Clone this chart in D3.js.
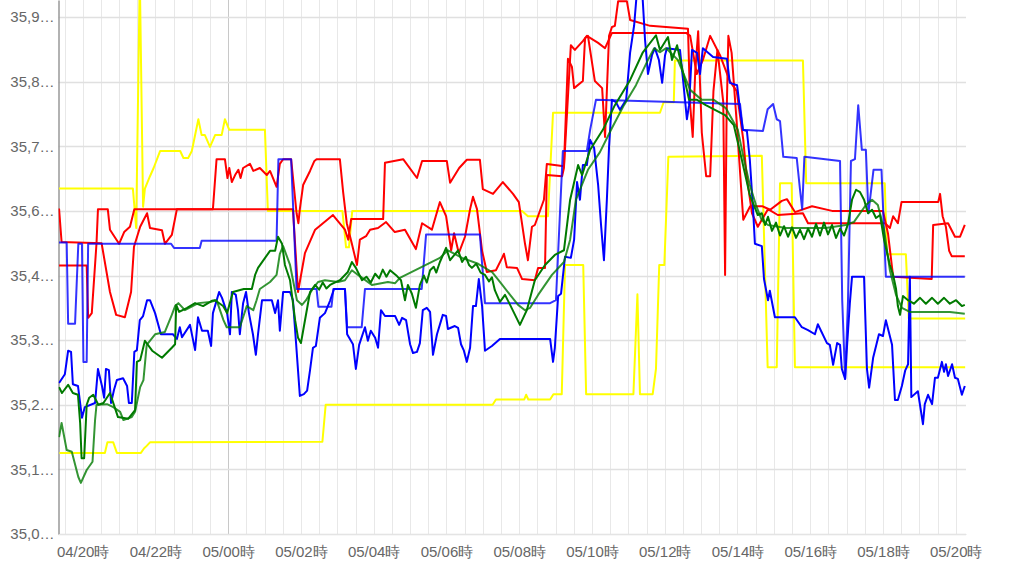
<!DOCTYPE html>
<html><head><meta charset="utf-8">
<script src="https://cdn.jsdelivr.net/npm/d3@7"></script>
<style>
html,body{margin:0;padding:0;background:#fff;}
svg{display:block;font-family:"Liberation Sans",Arial,"Noto Sans CJK JP",sans-serif;}
</style></head><body>
<svg id="chart" width="1024" height="576"></svg>
<script>
const yTickValues = [35.05,35.16,35.27,35.38,35.49,35.60,35.71,35.82,35.93];
const yTickLabels = ["35,0…","35,1…","35,2…","35,3…","35,4…","35,6…","35,7…","35,8…","35,9…"];
const xTickHours = [20,22,24,26,28,30,32,34,36,38,40,42,44];
const xTickLabels = ["04/20時","04/22時","05/00時","05/02時","05/04時","05/06時","05/08時","05/10時","05/12時","05/14時","05/16時","05/18時","05/20時"];

const yellowHigh = [[19.35,35.638],[21.38,35.638],[21.47,35.571],[21.57,36.00],[21.66,35.607],[21.71,35.638],[21.85,35.659],[21.95,35.673],[22.13,35.702],[22.68,35.702],[22.77,35.690],[22.90,35.690],[23.00,35.702],[23.18,35.756],[23.27,35.729],[23.36,35.729],[23.50,35.709],[23.64,35.729],[23.82,35.729],[23.91,35.756],[24.03,35.738],[25.01,35.738],[25.09,35.600],[27.14,35.600],[27.24,35.538],[27.32,35.538],[27.41,35.600],[32.08,35.600],[32.24,35.591],[32.79,35.591],[32.93,35.767],[35.87,35.767],[35.97,35.785],[36.25,35.785],[36.28,35.856],[39.80,35.856],[39.89,35.647],[42.05,35.647],[42.11,35.526],[42.63,35.526],[42.71,35.417],[44.26,35.417]];
const yellowLow = [[19.36,35.188],[20.61,35.188],[20.68,35.206],[20.84,35.206],[20.94,35.188],[21.60,35.188],[21.69,35.196],[21.76,35.200],[21.85,35.206],[26.59,35.207],[26.68,35.270],[31.27,35.270],[31.36,35.279],[32.14,35.279],[32.19,35.287],[32.25,35.279],[32.85,35.279],[32.94,35.288],[33.17,35.288],[33.26,35.508],[33.76,35.508],[33.84,35.288],[35.14,35.288],[35.25,35.458],[35.32,35.288],[35.67,35.288],[35.76,35.331],[35.85,35.508],[35.99,35.508],[36.10,35.692],[38.67,35.694],[38.83,35.334],[39.08,35.334],[39.17,35.647],[39.49,35.647],[39.58,35.334],[44.26,35.334]];

const redA = [[19.35,35.507],[20.11,35.507],[20.15,35.418],[20.25,35.426],[20.38,35.545],[20.42,35.603],[20.69,35.603],[20.75,35.568],[21.00,35.544],[21.14,35.564],[21.30,35.573],[21.42,35.603],[25.78,35.603],[25.92,35.462],[26.11,35.528],[26.39,35.568],[26.88,35.593],[27.21,35.568],[27.30,35.551],[27.38,35.586],[28.26,35.586],[28.31,35.682],[28.81,35.688],[29.19,35.656],[29.33,35.685],[30.01,35.685],[30.10,35.648],[30.35,35.673],[30.56,35.687],[30.92,35.687],[31.00,35.637],[31.28,35.629],[31.55,35.649],[31.83,35.629],[31.99,35.615],[32.16,35.544],[32.24,35.516],[32.35,35.573],[32.43,35.576],[32.68,35.619],[32.76,35.680],[33.23,35.676],[33.34,35.859],[33.45,35.845],[33.51,35.809],[33.75,35.821],[33.81,35.894],[33.89,35.898],[34.08,35.821],[34.28,35.809],[34.36,35.726],[34.47,35.898],[34.55,35.913],[34.63,35.915],[34.72,35.957],[34.96,35.957],[35.05,35.925],[35.60,35.915],[36.64,35.910],[36.70,35.780],[36.77,35.726],[36.84,35.838],[36.92,35.906],[37.02,35.733],[37.14,35.659],[37.25,35.659],[37.34,35.804],[37.45,35.874],[37.61,35.785],[37.66,35.491],[37.70,35.755],[37.75,35.898],[37.84,35.869],[37.98,35.750],[38.16,35.585],[38.35,35.608],[38.68,35.608],[38.90,35.602],[39.22,35.617],[39.36,35.620],[39.58,35.598],[40.05,35.608],[40.60,35.600],[42.00,35.600],[42.14,35.561],[42.28,35.488],[43.34,35.484],[43.38,35.576],[43.79,35.579],[43.98,35.556],[44.12,35.556],[44.25,35.576]];
const redB = [[19.35,35.604],[19.42,35.547],[20.52,35.545],[20.75,35.462],[20.92,35.423],[21.16,35.419],[21.33,35.462],[21.41,35.539],[21.58,35.573],[21.77,35.596],[21.85,35.571],[22.18,35.567],[22.26,35.544],[22.45,35.559],[22.59,35.603],[23.58,35.603],[23.68,35.688],[23.91,35.688],[23.98,35.656],[24.03,35.673],[24.10,35.649],[24.19,35.661],[24.28,35.670],[24.34,35.656],[24.41,35.673],[24.60,35.680],[24.69,35.668],[24.87,35.673],[25.06,35.661],[25.15,35.668],[25.33,35.641],[25.42,35.680],[25.51,35.688],[25.73,35.688],[25.88,35.596],[25.93,35.579],[25.97,35.603],[26.06,35.644],[26.25,35.668],[26.37,35.685],[26.43,35.688],[27.07,35.688],[27.16,35.632],[27.26,35.579],[27.40,35.544],[27.54,35.508],[27.62,35.551],[27.79,35.557],[27.90,35.568],[28.12,35.571],[28.34,35.581],[28.58,35.564],[28.86,35.568],[29.16,35.535],[29.33,35.579],[29.60,35.568],[29.82,35.615],[29.99,35.591],[30.13,35.533],[30.21,35.562],[30.34,35.528],[30.51,35.556],[30.65,35.603],[30.73,35.624],[30.84,35.603],[30.98,35.532],[31.11,35.496],[31.36,35.499],[31.53,35.520],[31.58,35.527],[31.66,35.504],[31.94,35.503],[32.08,35.484],[32.43,35.482],[32.52,35.503],[32.71,35.503],[32.76,35.661],[33.18,35.659],[33.23,35.673],[33.42,35.882],[33.53,35.874],[33.75,35.889],[33.86,35.898],[34.17,35.886],[34.36,35.877],[34.55,35.903],[36.59,35.903],[36.70,35.898],[36.88,35.833],[37.05,35.857],[37.25,35.898],[37.52,35.865],[37.79,35.821],[37.98,35.804],[38.16,35.721],[38.25,35.661],[38.40,35.596],[38.56,35.573],[38.84,35.603],[39.11,35.593],[39.80,35.596],[39.94,35.579],[42.06,35.579],[42.19,35.571],[42.28,35.591],[42.41,35.579],[42.51,35.615],[43.52,35.615],[43.57,35.629],[43.64,35.591],[43.73,35.573],[43.82,35.532],[43.89,35.523],[44.25,35.523]];

const blueA = [[19.35,35.307],[19.51,35.322],[19.60,35.362],[19.68,35.360],[19.73,35.305],[19.87,35.302],[19.98,35.248],[20.06,35.266],[20.34,35.273],[20.42,35.331],[20.53,35.302],[20.59,35.282],[20.64,35.331],[20.72,35.329],[20.78,35.273],[20.86,35.295],[20.94,35.312],[21.11,35.315],[21.22,35.302],[21.27,35.273],[21.35,35.273],[21.42,35.360],[21.49,35.363],[21.57,35.414],[21.66,35.421],[21.77,35.448],[21.85,35.448],[21.99,35.426],[22.15,35.390],[22.48,35.390],[22.59,35.382],[22.67,35.402],[22.73,35.385],[22.95,35.406],[23.09,35.363],[23.17,35.419],[23.28,35.396],[23.44,35.396],[23.53,35.370],[23.58,35.426],[23.75,35.462],[23.83,35.452],[23.97,35.426],[24.05,35.390],[24.10,35.462],[24.21,35.457],[24.27,35.431],[24.32,35.390],[24.41,35.443],[24.49,35.462],[24.57,35.426],[24.68,35.390],[24.76,35.355],[24.82,35.390],[24.93,35.448],[25.20,35.448],[25.29,35.426],[25.37,35.448],[25.42,35.396],[25.51,35.462],[25.70,35.462],[25.78,35.448],[25.86,35.380],[25.97,35.285],[26.08,35.288],[26.17,35.294],[26.25,35.329],[26.33,35.367],[26.41,35.370],[26.52,35.418],[26.66,35.426],[26.80,35.447],[26.91,35.467],[27.21,35.467],[27.27,35.390],[27.43,35.373],[27.51,35.331],[27.60,35.372],[27.76,35.402],[27.84,35.379],[27.92,35.396],[28.04,35.384],[28.12,35.367],[28.20,35.431],[28.31,35.421],[28.59,35.421],[28.70,35.406],[28.78,35.418],[28.89,35.414],[29.00,35.373],[29.08,35.358],[29.19,35.360],[29.27,35.375],[29.35,35.431],[29.46,35.435],[29.55,35.428],[29.63,35.355],[29.74,35.390],[29.90,35.423],[29.99,35.421],[30.04,35.399],[30.23,35.404],[30.32,35.401],[30.40,35.373],[30.48,35.362],[30.56,35.343],[30.65,35.367],[30.73,35.438],[30.81,35.438],[30.89,35.484],[30.98,35.438],[31.06,35.362],[31.25,35.370],[31.47,35.382],[32.85,35.382],[32.93,35.343],[32.98,35.367],[33.07,35.455],[33.15,35.459],[33.26,35.522],[33.42,35.520],[33.51,35.551],[33.59,35.649],[33.67,35.619],[33.75,35.678],[33.86,35.678],[33.95,35.721],[34.06,35.707],[34.17,35.644],[34.25,35.576],[34.33,35.516],[34.41,35.619],[34.47,35.709],[34.55,35.789],[34.66,35.785],[34.77,35.772],[34.94,35.789],[35.05,35.870],[35.16,35.916],[35.24,35.976],[35.38,35.976],[35.46,35.891],[35.54,35.833],[35.65,35.865],[35.73,35.877],[35.84,35.857],[35.93,35.818],[36.01,35.865],[36.06,35.877],[36.42,35.874],[36.50,35.826],[36.61,35.756],[36.67,35.780],[36.75,35.874],[36.89,35.869],[36.97,35.833],[37.05,35.877],[37.33,35.862],[37.71,35.859],[37.79,35.818],[37.99,35.814],[38.07,35.773],[38.15,35.738],[38.26,35.736],[38.34,35.687],[38.43,35.602],[38.48,35.544],[38.67,35.540],[38.73,35.484],[38.84,35.448],[38.89,35.464],[39.03,35.419],[39.58,35.419],[39.77,35.402],[39.94,35.397],[40.13,35.390],[40.21,35.407],[40.46,35.375],[40.54,35.372],[40.63,35.338],[40.74,35.375],[40.82,35.372],[40.87,35.331],[40.96,35.314],[41.01,35.367],[41.09,35.443],[41.15,35.488],[41.48,35.488],[41.56,35.331],[41.62,35.299],[41.73,35.350],[41.89,35.390],[42.00,35.387],[42.08,35.414],[42.25,35.372],[42.33,35.278],[42.41,35.278],[42.52,35.302],[42.61,35.328],[42.69,35.339],[42.74,35.488],[42.78,35.283],[42.96,35.293],[43.10,35.237],[43.15,35.271],[43.24,35.287],[43.35,35.271],[43.43,35.316],[43.51,35.316],[43.62,35.343],[43.68,35.326],[43.73,35.339],[43.79,35.319],[43.90,35.339],[43.98,35.316],[44.06,35.314],[44.17,35.287],[44.25,35.302]];
const blueB = [[19.35,35.546],[19.56,35.546],[19.60,35.408],[19.79,35.408],[19.88,35.544],[19.98,35.544],[20.02,35.343],[20.11,35.343],[20.15,35.544],[22.43,35.544],[22.51,35.537],[23.22,35.537],[23.27,35.549],[25.33,35.549],[25.38,35.688],[25.73,35.688],[25.88,35.467],[26.43,35.467],[26.48,35.437],[26.84,35.437],[26.89,35.467],[27.21,35.467],[27.27,35.402],[27.67,35.402],[27.76,35.467],[29.32,35.467],[29.44,35.560],[30.92,35.560],[31.06,35.443],[32.85,35.443],[33.01,35.448],[33.20,35.702],[33.86,35.702],[33.95,35.738],[34.11,35.789],[38.07,35.782],[38.15,35.738],[38.70,35.736],[38.83,35.773],[38.98,35.782],[39.08,35.756],[39.17,35.753],[39.26,35.692],[39.63,35.690],[39.72,35.636],[39.78,35.603],[39.84,35.692],[40.82,35.685],[40.88,35.448],[40.96,35.314],[41.04,35.448],[41.12,35.685],[41.23,35.688],[41.32,35.780],[41.42,35.704],[41.53,35.704],[41.60,35.596],[41.74,35.670],[41.96,35.670],[42.08,35.488],[44.25,35.488]];

const greenA = [[19.35,35.300],[19.43,35.290],[19.60,35.304],[19.73,35.290],[19.87,35.287],[19.93,35.239],[19.97,35.179],[20.04,35.179],[20.11,35.270],[20.18,35.282],[20.29,35.287],[20.43,35.270],[20.57,35.273],[20.75,35.290],[20.97,35.249],[21.25,35.246],[21.44,35.261],[21.49,35.343],[21.58,35.346],[21.71,35.379],[21.91,35.362],[22.18,35.350],[22.45,35.367],[22.54,35.373],[22.57,35.440],[22.65,35.428],[22.87,35.435],[23.09,35.443],[23.31,35.438],[23.55,35.447],[23.64,35.448],[23.86,35.438],[23.97,35.426],[24.13,35.462],[24.43,35.467],[24.65,35.467],[24.74,35.491],[24.82,35.503],[25.15,35.532],[25.29,35.532],[25.37,35.556],[25.48,35.544],[25.56,35.508],[25.70,35.482],[25.84,35.414],[25.92,35.384],[26.00,35.375],[26.06,35.396],[26.25,35.462],[26.39,35.474],[26.50,35.466],[26.60,35.478],[26.70,35.468],[26.80,35.474],[27.07,35.482],[27.29,35.496],[27.40,35.513],[27.51,35.503],[27.68,35.482],[27.80,35.488],[27.92,35.478],[28.04,35.493],[28.15,35.485],[28.25,35.500],[28.35,35.488],[28.45,35.499],[28.64,35.489],[28.75,35.482],[28.86,35.448],[28.94,35.474],[29.05,35.459],[29.16,35.435],[29.27,35.474],[29.38,35.490],[29.46,35.478],[29.55,35.499],[29.65,35.505],[29.72,35.495],[29.82,35.513],[29.99,35.537],[30.10,35.516],[30.32,35.533],[30.43,35.513],[30.53,35.522],[30.62,35.508],[30.70,35.503],[30.82,35.510],[30.94,35.495],[31.06,35.491],[31.17,35.480],[31.25,35.487],[31.33,35.465],[31.47,35.445],[31.61,35.457],[31.75,35.440],[32.02,35.406],[32.21,35.431],[32.43,35.482],[32.71,35.508],[32.98,35.525],[33.23,35.533],[33.40,35.619],[33.62,35.678],[33.73,35.661],[33.95,35.704],[34.30,35.738],[34.63,35.780],[35.05,35.823],[35.40,35.870],[35.76,35.899],[35.87,35.874],[36.09,35.896],[36.20,35.857],[36.34,35.882],[36.67,35.789],[36.89,35.789],[37.13,35.780],[37.38,35.772],[37.66,35.763],[37.90,35.746],[38.12,35.687],[38.34,35.627],[38.56,35.593],[38.67,35.596],[38.76,35.576],[38.84,35.590],[38.95,35.566],[39.06,35.580],[39.17,35.558],[39.28,35.574],[39.39,35.556],[39.50,35.572],[39.61,35.554],[39.72,35.568],[39.83,35.552],[39.94,35.570],[40.05,35.556],[40.16,35.578],[40.27,35.558],[40.38,35.580],[40.49,35.560],[40.60,35.576],[40.71,35.554],[40.82,35.570],[40.93,35.558],[41.04,35.578],[41.15,35.619],[41.26,35.636],[41.37,35.632],[41.48,35.619],[41.59,35.596],[41.70,35.602],[41.81,35.588],[41.92,35.593],[42.03,35.551],[42.19,35.508],[42.28,35.491],[42.36,35.467],[42.41,35.438],[42.47,35.423],[42.55,35.455],[42.69,35.448],[42.85,35.442],[43.02,35.452],[43.18,35.442],[43.35,35.452],[43.51,35.442],[43.68,35.452],[43.84,35.442],[44.01,35.448],[44.17,35.438],[44.25,35.440]];
const greenB = [[19.35,35.215],[19.42,35.239],[19.56,35.193],[19.70,35.190],[19.88,35.147],[19.95,35.137],[20.11,35.159],[20.27,35.173],[20.34,35.244],[20.38,35.270],[20.67,35.271],[20.84,35.266],[21.03,35.258],[21.12,35.244],[21.35,35.249],[21.44,35.258],[21.58,35.300],[21.67,35.312],[21.76,35.372],[21.99,35.390],[22.26,35.394],[22.45,35.423],[22.54,35.438],[22.63,35.443],[22.81,35.431],[23.18,35.443],[23.50,35.445],[23.68,35.448],[23.87,35.414],[23.96,35.402],[24.32,35.402],[24.51,35.438],[24.69,35.431],[24.78,35.448],[24.87,35.467],[25.15,35.479],[25.33,35.491],[25.42,35.527],[25.51,35.540],[25.70,35.508],[25.89,35.448],[26.03,35.440],[26.14,35.448],[26.30,35.465],[26.47,35.479],[26.66,35.482],[27.02,35.479],[27.21,35.482],[27.40,35.499],[27.57,35.491],[27.95,35.474],[28.39,35.479],[28.59,35.477],[28.72,35.486],[29.27,35.503],[29.82,35.520],[30.04,35.533],[30.43,35.520],[30.87,35.510],[31.25,35.496],[31.47,35.479],[31.75,35.457],[31.97,35.440],[32.16,35.431],[32.30,35.435],[32.52,35.457],[32.90,35.491],[33.23,35.513],[33.40,35.551],[33.56,35.619],[33.89,35.670],[34.22,35.700],[34.55,35.741],[34.88,35.780],[35.21,35.814],[35.54,35.857],[35.71,35.877],[35.87,35.870],[36.04,35.877],[36.36,35.857],[36.70,35.806],[37.02,35.789],[37.35,35.789],[37.68,35.775],[38.01,35.738],[38.18,35.687],[38.34,35.644],[38.51,35.610],[38.67,35.584],[38.84,35.576],[39.33,35.571],[39.88,35.571],[40.43,35.571],[40.98,35.576],[41.20,35.581],[41.53,35.610],[41.70,35.619],[41.86,35.610],[42.03,35.568],[42.19,35.499],[42.36,35.457],[42.52,35.435],[42.74,35.428],[43.29,35.428],[43.84,35.428],[44.25,35.425]];

const seriesList = [
  {data: yellowLow, color: "#ffff00", opacity: 1},
  {data: yellowHigh, color: "#ffff00", opacity: 1},
  {data: redB, color: "#ff0000", opacity: 1},
  {data: redA, color: "#ff0000", opacity: 1},
  {data: blueB, color: "#0000ff", opacity: 0.8},
  {data: blueA, color: "#0000ff", opacity: 1},
  {data: greenB, color: "#007a00", opacity: 0.8},
  {data: greenA, color: "#007a00", opacity: 1}
];

const svg = d3.select("#chart");
const plotLeft = 58.5, plotRight = 966, plotTop = 0, plotBottom = 534;
const x = d3.scaleLinear().domain([19.335, 44.283]).range([plotLeft, plotRight]);
const y = d3.scaleLinear().domain([35.05, 35.959]).range([plotBottom, plotTop]);

const halfHours = d3.range(19.5, 44.26, 0.5);
svg.append("g").selectAll("line").data(halfHours).join("line")
  .attr("x1", d => Math.round(x(d)) + 0.5).attr("x2", d => Math.round(x(d)) + 0.5)
  .attr("y1", plotTop).attr("y2", plotBottom)
  .attr("stroke", d => d === 24 ? "#c8c8c8" : "#e8e8e8").attr("stroke-width", 1);
svg.append("g").selectAll("line").data(yTickValues).join("line")
  .attr("x1", plotLeft).attr("x2", plotRight)
  .attr("y1", d => Math.round(y(d)) + 0.5).attr("y2", d => Math.round(y(d)) + 0.5)
  .attr("stroke", "#e0e0e0").attr("stroke-width", 1.5);

const yAxis = d3.axisLeft(y).tickValues(yTickValues).tickFormat((d, i) => yTickLabels[i]).tickSize(0).tickPadding(4);
const gy = svg.append("g").attr("transform", `translate(${plotLeft},0)`).call(yAxis);
gy.select(".domain").attr("stroke", "#999").attr("stroke-width", 1.5);
gy.selectAll("text").attr("fill", "#666").attr("font-size", 15);

const xAxis = d3.axisBottom(x).tickValues(xTickHours).tickFormat((d, i) => xTickLabels[i]).tickSize(0).tickPadding(12);
const gx = svg.append("g").attr("transform", `translate(0,${plotBottom})`).call(xAxis);
gx.select(".domain").attr("stroke", "#e4e4e4").attr("stroke-width", 1);
gx.selectAll("text").attr("fill", "#666").attr("font-size", 15);

svg.append("defs").append("clipPath").attr("id", "plotClip")
  .append("rect").attr("x", plotLeft).attr("y", plotTop).attr("width", plotRight - plotLeft).attr("height", plotBottom - plotTop);

const line = d3.line().x(d => x(d[0])).y(d => y(d[1]));
const g = svg.append("g").attr("clip-path", "url(#plotClip)");
seriesList.forEach(s => {
  g.append("path").datum(s.data)
    .attr("d", line)
    .attr("fill", "none")
    .attr("stroke", s.color)
    .attr("stroke-opacity", s.opacity)
    .attr("stroke-width", 2)
    .attr("stroke-linejoin", "round");
});
</script>
</body></html>
